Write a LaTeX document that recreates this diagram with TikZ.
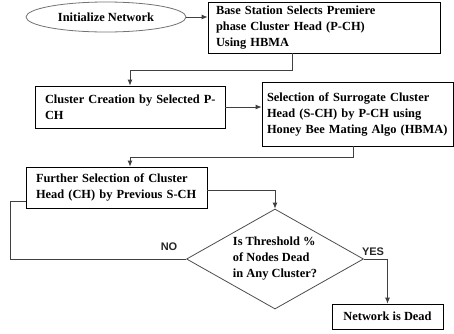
\documentclass[tikz,border=0pt]{standalone}
\usepackage{fontspec}
\setmainfont{Liberation Serif}
\newfontfamily\lsans{Liberation Sans}
\usetikzlibrary{shapes.geometric,arrows.meta}
\newcommand{\jl}[1]{\makebox[\linewidth][s]{#1}}
\begin{document}
\begin{tikzpicture}[x=1pt,y=-1pt,
 txt/.style={font=\bfseries\fontsize{12.4}{16}\selectfont},
 box/.style={txt,draw=black,line width=0.8pt,rectangle,inner ysep=0pt,align=left},
 conn/.style={draw=black!75,line width=0.8pt},
 arr/.style={conn,-{Latex[length=6pt,width=5pt]}},
 lab/.style={font=\lsans\bfseries\fontsize{11}{13}\selectfont,text=black!85}]
\useasboundingbox (0,0) rectangle (454,333);

\node[ellipse,draw=black!55,line width=0.8pt,txt,minimum width=160pt,minimum height=30pt,inner sep=0pt] (init) at (106,17) {Initialize Network};

\node[box,text width=216pt,inner xsep=8pt,minimum height=51pt] (bs) at (324,27.5)
 {Base Station Selects Premiere\\phase Cluster Head (P-CH)\\Using HBMA};

\node[box,text width=170pt,inner xsep=10pt,minimum height=42pt] (cc) at (130,107)
 {\jl{Cluster Creation by Selected P-}\\CH};

\node[box,text width=181pt,inner xsep=5pt,minimum height=64pt] (sel) at (357.5,114)
 {\jl{Selection of Surrogate Cluster}\\\jl{Head (S-CH) by P-CH using}\\Honey Bee Mating Algo (HBMA)};

\node[box,text width=161pt,inner xsep=10pt,minimum height=41pt] (fur) at (116.5,187.5)
 {\jl{Further Selection of Cluster}\\Head (CH) by Previous S-CH};

\node[diamond,draw=black!70,line width=0.8pt,txt,align=left,minimum width=177pt,minimum height=100pt,inner sep=0pt,aspect=1.77] (dia) at (275,259)
 {Is Threshold \%\\of Nodes Dead\\in Any Cluster?};

\node[box,align=center,minimum width=111pt,minimum height=25pt,inner xsep=0pt] (dead) at (387.5,316.5) {Network is Dead};

\draw[arr] (init.east) -- (init.east -| bs.west);

\coordinate (c1) at (292,70);
\draw[arr] (bs.south -| c1) |- (cc.north |- c1) -- (cc.north);

\draw[arr] (cc.east) -- (cc.east -| sel.west);

\coordinate (c2) at (353,157);
\coordinate (c3) at (130,157);
\draw[arr] (sel.south -| c2) -- (c2) -- (c3) -- (c3 |- fur.north);

\coordinate (c4) at (275,190);
\draw[arr] (fur.east |- c4) -| (dia.north);

\coordinate (c5) at (10,201);
\draw[conn] (dia.west) -| (c5) -- (c5 -| fur.west);
\node[lab] (no) at (169,247) {NO};

\draw[arr] (dia.east) -| (dead.north);
\node[lab] (yes) at (373,252) {YES};
\end{tikzpicture}
\end{document}
